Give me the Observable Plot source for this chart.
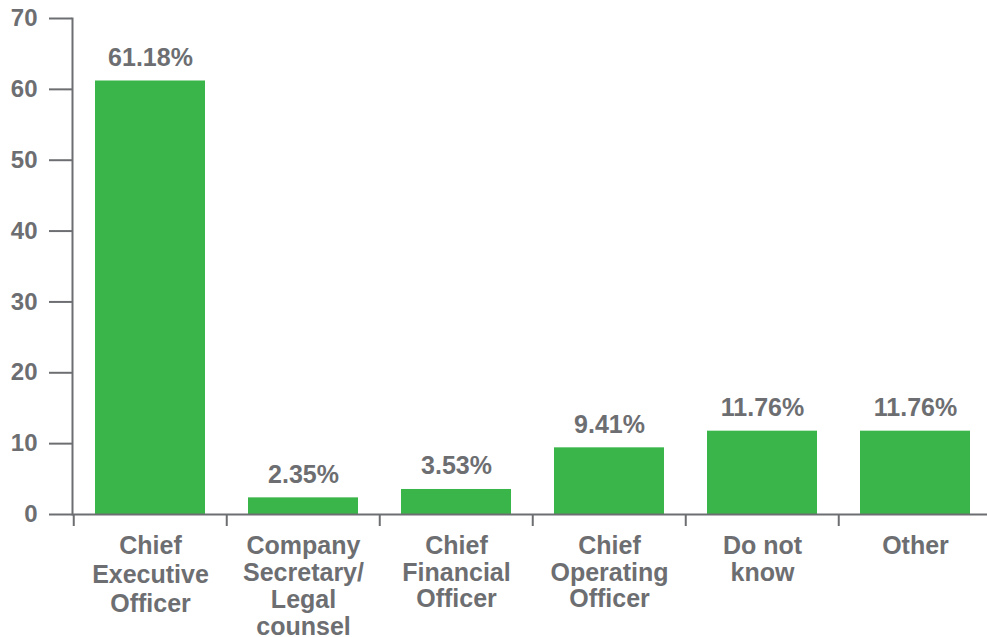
<!DOCTYPE html>
<html>
<head>
<meta charset="utf-8">
<script src="https://cdn.jsdelivr.net/npm/d3@7"></script>
<script src="https://cdn.jsdelivr.net/npm/@observablehq/plot@0.6"></script>
<style>
  html, body { margin: 0; padding: 0; background: #ffffff; }
</style>
</head>
<body>
<div id="chart"></div>
<script>
const categories = [
  "Chief\nExecutive\nOfficer",
  "Company\nSecretary/\nLegal\ncounsel",
  "Chief\nFinancial\nOfficer",
  "Chief\nOperating\nOfficer",
  "Do not\nknow",
  "Other"
];
const values = [61.18, 2.35, 3.53, 9.41, 11.76, 11.76];
const valueLabels = ["61.18%", "2.35%", "3.53%", "9.41%", "11.76%", "11.76%"];
const yTicks = [0, 10, 20, 30, 40, 50, 60, 70];

const data = categories.map((c, i) => ({category: c, value: values[i], label: valueLabels[i], idx: i}));

const gray = "#6d6e71";
const green = "#3ab54a";
const step = (993 - 72) / categories.length;

const labelStyle = {x: "category", y: 0, text: "category", lineAnchor: "top", fill: gray, fontSize: 25, fontWeight: "bold"};

const chart = Plot.plot({
  width: 987,
  height: 637,
  marginLeft: 72,
  marginRight: 0,
  marginTop: 18,
  marginBottom: 123,
  style: {
    fontFamily: "'Liberation Sans', Arial, Helvetica, sans-serif",
    fontSize: "24px",
    fontWeight: "bold",
    color: gray,
    background: "#ffffff"
  },
  x: {domain: categories, range: [72, 993], paddingInner: 0.28, paddingOuter: 0.14},
  y: {domain: [0, 70]},
  marks: [
    Plot.barY(data, {x: "category", y: "value", fill: green}),
    Plot.frame({anchor: "left", stroke: gray, strokeWidth: 2}),
    Plot.ruleY([0], {stroke: gray, strokeWidth: 2}),
    Plot.axisY({ticks: yTicks, tickSize: 23, tickPadding: 12, strokeWidth: 2, stroke: gray, fill: gray, label: null, tickFormat: d => String(d)}),
    Plot.axisX({tickSize: 12, dx: -step / 2, tickFormat: () => "", strokeWidth: 2, stroke: gray, label: null}),
    Plot.text(data, {x: "category", y: "value", text: "label", dy: -23, fill: gray, fontSize: 25, fontWeight: "bold"}),
    Plot.text(data.filter(d => d.idx === 0), {...labelStyle, dy: 19, lineHeight: 1.16}),
    Plot.text(data.filter(d => d.idx === 1), {...labelStyle, dy: 20, lineHeight: 1.08}),
    Plot.text(data.filter(d => d.idx > 1), {...labelStyle, dy: 21, lineHeight: 1.06})
  ]
});

document.getElementById("chart").appendChild(chart);
</script>
</body>
</html>
